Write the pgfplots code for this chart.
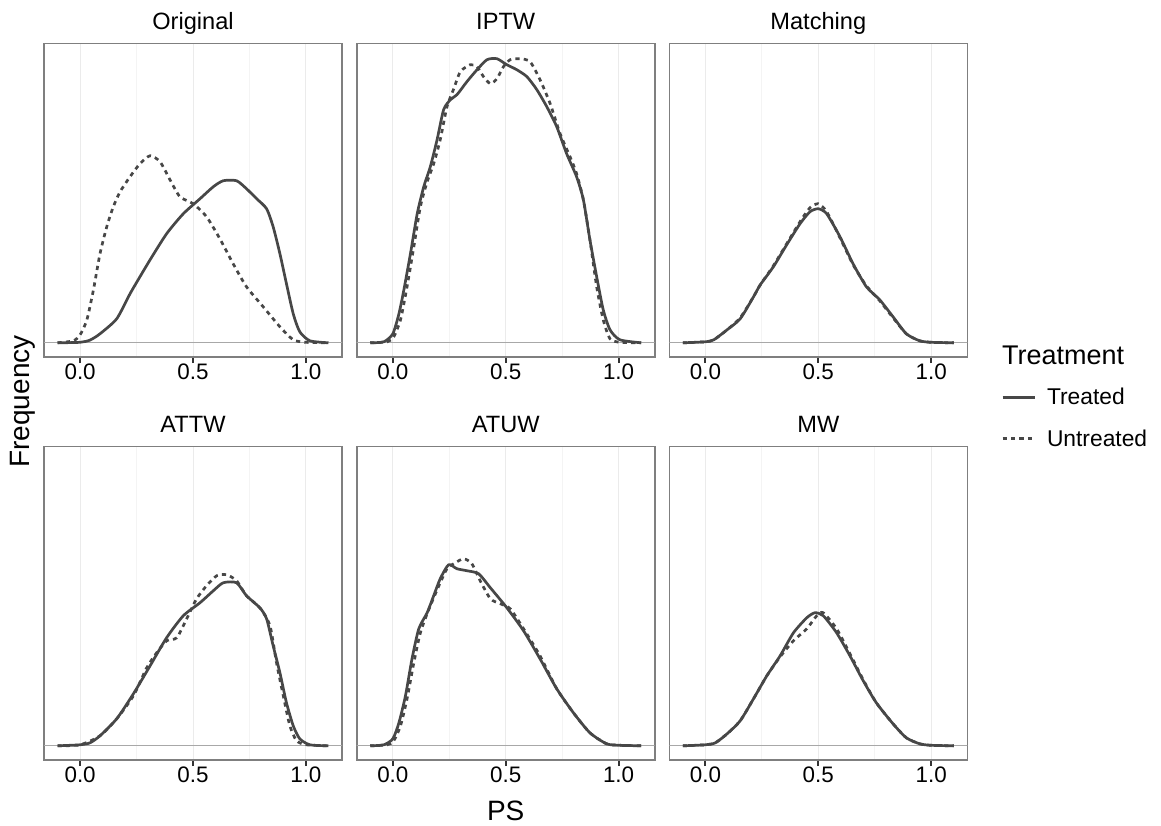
\documentclass[border=0pt]{standalone}
\usepackage{pgfplots}
\pgfplotsset{compat=1.18}
\usepackage{fontspec}
\setmainfont{Liberation Sans}

\definecolor{framegray}{HTML}{7F7F7F}
\definecolor{gridmaj}{HTML}{EBEBEB}
\definecolor{gridmin}{HTML}{F4F4F4}
\definecolor{zeroline}{HTML}{A8A8A8}
\definecolor{curve}{HTML}{474747}
\definecolor{tickc}{HTML}{333333}

\pgfplotsset{
  panel/.style={
    scale only axis,
    width=149pt, height=156.75pt,
    anchor=south west,
    xmin=-0.16, xmax=1.16,
    ymin=-14.2, ymax=299.2,
    ytick=\empty,
    xtick={0,0.5,1},
    xticklabels={0.0,0.5,1.0},
    minor xtick={0.25,0.75},
    xtick pos=bottom,
    tick align=outside,
    major tick length=3.1pt,
    minor tick length=0pt,
    every tick/.style={tickc, line width=1pt},
    xmajorgrids, xminorgrids,
    major grid style={gridmaj, line width=0.5pt},
    minor grid style={gridmin, line width=0.5pt},
    axis line style={framegray, line width=0.8pt},
    xticklabel style={font=\fontsize{11.2}{13}\selectfont, anchor=base, yshift=-8.3pt, text=black},
    every axis title/.style={font=\fontsize{11.8}{14}\selectfont, at={(0.5,1)}, anchor=base, yshift=6.9pt},
    clip=true,
  },
  treated/.style={curve, line width=1.35pt, smooth, tension=0.4, line join=round},
  untreated/.style={curve, line width=1.35pt, smooth, tension=0.4, dash pattern=on 2.1pt off 2.1pt},
  zero/.style={zeroline, line width=0.6pt},
}

\begin{document}
\begin{tikzpicture}
\useasboundingbox (0,0) rectangle (580.5pt,412.5pt);

% ---- row 1 ----
\begin{axis}[panel, at={(22pt,234pt)}, title={Original}]
  \addplot[zero] coordinates {(-0.3,0) (1.3,0)};
  \addplot[untreated] coordinates {
    (-0.1,0) (-0.03,2) (0.0,8) (0.03,23) (0.059,53) (0.088,89) (0.118,116)
    (0.147,136) (0.177,151) (0.221,166) (0.265,179) (0.31,187) (0.354,181)
    (0.398,163) (0.442,146) (0.501,139) (0.56,126) (0.619,104) (0.678,79)
    (0.737,56) (0.811,36) (0.885,16) (0.944,3) (1.0,0.5) (1.1,0)
  };
  \addplot[treated] coordinates {
    (-0.1,0) (0.0,0.5) (0.044,2.7) (0.088,9) (0.162,24) (0.221,49) (0.265,66)
    (0.31,83) (0.383,109) (0.457,129) (0.531,144) (0.59,156) (0.634,162)
    (0.693,162) (0.737,154) (0.782,144) (0.826,134) (0.855,116) (0.885,89)
    (0.914,59) (0.944,29) (0.973,11) (1.018,2) (1.1,0)
  };
\end{axis}

\begin{axis}[panel, at={(178.35pt,234pt)}, title={IPTW}]
  \addplot[zero] coordinates {(-0.3,0) (1.3,0)};
  \addplot[untreated] coordinates {
    (-0.1,0) (-0.025,1) (0.004,6) (0.034,23) (0.063,56) (0.093,96) (0.122,136)
    (0.152,161) (0.181,179) (0.21,203) (0.24,236) (0.27,254) (0.299,271)
    (0.343,278) (0.373,276) (0.402,266) (0.432,259) (0.461,264) (0.49,276)
    (0.52,283) (0.564,284) (0.608,281) (0.652,263) (0.697,239) (0.741,209)
    (0.785,186) (0.814,169) (0.844,143) (0.873,103) (0.903,56) (0.932,23)
    (0.962,4) (1.006,0.5) (1.1,0)
  };
  \addplot[treated] coordinates {
    (-0.1,0) (-0.04,1) (0.0,9) (0.027,29) (0.049,53) (0.078,89) (0.108,129)
    (0.137,156) (0.166,176) (0.196,203) (0.225,233) (0.255,243) (0.284,248)
    (0.328,261) (0.373,273) (0.417,283) (0.461,284) (0.505,278) (0.549,273)
    (0.594,266) (0.638,253) (0.682,236) (0.726,216) (0.77,189) (0.814,166)
    (0.844,143) (0.873,103) (0.903,66) (0.932,33) (0.962,13) (1.006,3) (1.1,0)
  };
\end{axis}

\begin{axis}[panel, at={(334.65pt,234pt)}, title={Matching}]
  \addplot[zero] coordinates {(-0.3,0) (1.3,0)};
  \addplot[untreated] coordinates {
    (-0.1,0) (0.0,1) (0.037,3) (0.096,13) (0.154,25) (0.213,46) (0.243,58)
    (0.301,77) (0.36,99) (0.419,121) (0.463,135) (0.5,139) (0.537,131)
    (0.596,105) (0.654,78) (0.713,57) (0.772,42) (0.831,25) (0.89,9)
    (0.949,2) (1.0,0.5) (1.1,0)
  };
  \addplot[treated] coordinates {
    (-0.1,0) (0.0,1) (0.037,3) (0.096,13) (0.154,24) (0.213,46) (0.243,58)
    (0.301,76) (0.36,98) (0.419,119) (0.463,131) (0.5,134) (0.537,129)
    (0.596,106) (0.654,79) (0.713,56) (0.772,43) (0.831,26) (0.89,9)
    (0.949,2) (1.0,0.5) (1.1,0)
  };
\end{axis}

% ---- row 2 ----
\begin{axis}[panel, at={(22pt,32.5pt)}, title={ATTW}]
  \addplot[zero] coordinates {(-0.3,0) (1.3,0)};
  \addplot[untreated] coordinates {
    (-0.1,0) (0.0,1) (0.088,10) (0.162,27) (0.236,50) (0.295,78) (0.339,93)
    (0.383,105) (0.428,108) (0.472,127) (0.516,147) (0.56,160) (0.605,170)
    (0.649,171) (0.693,165) (0.737,150) (0.796,138) (0.841,120) (0.87,83)
    (0.9,50) (0.929,20) (0.959,5) (1.003,1) (1.1,0)
  };
  \addplot[treated] coordinates {
    (-0.1,0) (0.0,1) (0.044,3) (0.088,10) (0.162,27) (0.236,52) (0.31,80)
    (0.383,108) (0.457,130) (0.531,143) (0.59,155) (0.634,163) (0.693,163)
    (0.737,150) (0.796,138) (0.826,127) (0.855,100) (0.885,73) (0.914,43)
    (0.944,20) (0.973,7) (1.018,1) (1.1,0)
  };
\end{axis}

\begin{axis}[panel, at={(178.35pt,32.5pt)}, title={ATUW}]
  \addplot[zero] coordinates {(-0.3,0) (1.3,0)};
  \addplot[untreated] coordinates {
    (-0.1,0) (-0.025,1) (0.004,5) (0.034,20) (0.063,47) (0.093,83) (0.122,113)
    (0.152,132) (0.181,148) (0.21,163) (0.24,177) (0.277,183) (0.314,187)
    (0.35,182) (0.387,165) (0.432,147) (0.476,142) (0.52,137) (0.579,117)
    (0.652,90) (0.726,57) (0.8,33) (0.873,13) (0.947,2) (1.006,0.5) (1.1,0)
  };
  \addplot[treated] coordinates {
    (-0.1,0) (-0.04,1) (0.0,7) (0.027,23) (0.056,50) (0.085,87) (0.115,117)
    (0.152,133) (0.181,150) (0.21,167) (0.247,181) (0.284,177) (0.328,175)
    (0.38,172) (0.432,158) (0.505,138) (0.579,115) (0.652,87) (0.726,57)
    (0.8,33) (0.873,13) (0.947,2) (1.006,0.5) (1.1,0)
  };
\end{axis}

\begin{axis}[panel, at={(334.65pt,32.5pt)}, title={MW}]
  \addplot[zero] coordinates {(-0.3,0) (1.3,0)};
  \addplot[untreated] coordinates {
    (-0.1,0) (0.0,1) (0.044,3) (0.096,12) (0.154,25) (0.213,47) (0.272,70)
    (0.331,89) (0.39,105) (0.449,117) (0.493,130) (0.522,133) (0.581,117)
    (0.64,92) (0.699,66) (0.757,43) (0.831,22) (0.89,8) (0.949,2) (1.0,0.5) (1.1,0)
  };
  \addplot[treated] coordinates {
    (-0.1,0) (0.0,1) (0.044,3) (0.096,12) (0.154,25) (0.213,47) (0.272,70)
    (0.331,90) (0.39,113) (0.449,128) (0.485,133) (0.522,130) (0.581,113)
    (0.64,90) (0.699,65) (0.757,43) (0.831,22) (0.89,8) (0.949,2) (1.0,0.5) (1.1,0)
  };
\end{axis}

% ---- axis titles ----
\node[font=\fontsize{14}{16}\selectfont, anchor=base] at (252.85pt,2.2pt) {PS};
\node[font=\fontsize{14}{16}\selectfont, anchor=base, rotate=90] at (14.6pt,211.75pt) {Frequency};

% ---- legend ----
\node[font=\fontsize{13.5}{16}\selectfont, anchor=base west, inner sep=0pt] at (500.8pt,230pt) {Treatment};
\draw[curve, line width=1.35pt] (501.3pt,213.85pt) -- (517.5pt,213.85pt);
\node[font=\fontsize{11.4}{14}\selectfont, anchor=base west, inner sep=0pt] at (523.3pt,210pt) {Treated};
\draw[curve, line width=1.35pt, dash pattern=on 2.1pt off 2.1pt] (501.3pt,193.35pt) -- (517.5pt,193.35pt);
\node[font=\fontsize{11.4}{14}\selectfont, anchor=base west, inner sep=0pt] at (523.3pt,189.15pt) {Untreated};
\end{tikzpicture}
\end{document}
